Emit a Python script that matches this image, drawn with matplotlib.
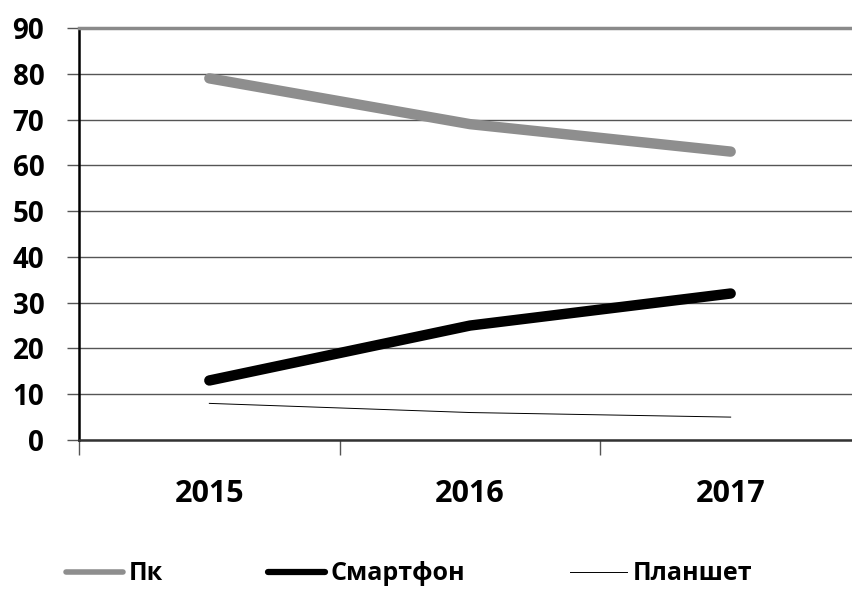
import matplotlib
matplotlib.use("Agg")
import matplotlib.pyplot as plt
from matplotlib.ticker import FixedLocator, NullFormatter

plt.rcParams['font.family'] = ['Open Sans', 'DejaVu Sans']
plt.rcParams['font.weight'] = 'bold'

# data
years = ['2015', '2016', '2017']
pc = [79, 69, 63]
smartphone = [13, 25, 32]
tablet = [8, 6, 5]
series_names = ['Пк', 'Смартфон', 'Планшет']

W, H = 853, 589
fig = plt.figure(figsize=(W / 100, H / 100), dpi=100)
# right edge of axes sits just past the picture, as in the reference
ax = fig.add_axes([79 / W, (H - 440) / H, (861 - 79) / W, (440 - 28) / H])

x = list(range(len(years)))
ax.plot(x, pc, color='#8e8e8e', lw=7.5, solid_capstyle='round', label=series_names[0], zorder=3)
ax.plot(x, smartphone, color='black', lw=7.5, solid_capstyle='round', label=series_names[1], zorder=3)
ax.plot(x, tablet, color='black', lw=0.7, label=series_names[2], zorder=3)

ax.set_xlim(-0.5, len(years) - 0.5)
ax.set_ylim(0, 90)

# y axis
ax.set_yticks(range(0, 91, 10))
ax.tick_params(axis='y', length=9, width=1, color='#555555', pad=16, labelsize=20)
ax.yaxis.grid(True, color='#555555', lw=1)
ax.set_axisbelow(True)

# x axis: ticks between categories, labels at centers
ax.xaxis.set_major_locator(FixedLocator([i - 0.5 for i in range(len(years) + 1)]))
ax.xaxis.set_major_formatter(NullFormatter())
ax.xaxis.set_minor_locator(FixedLocator(x))
ax.set_xticklabels(years, minor=True)
ax.tick_params(axis='x', which='major', length=11, width=1, color='#555555')
ax.tick_params(axis='x', which='minor', length=0, pad=28, labelsize=22)

ax.spines['left'].set_color('black')
ax.spines['left'].set_linewidth(1.8)
ax.spines['bottom'].set_color('#333333')
ax.spines['bottom'].set_linewidth(1.8)
ax.spines['top'].set_color('#8a8a8a')
ax.spines['top'].set_linewidth(2.5)
ax.spines['right'].set_visible(False)

leg = fig.legend(loc='center', bbox_to_anchor=(409 / W, 1 - 574 / H), ncol=3, frameon=False,
                 fontsize=18, handlelength=2.3, handletextpad=0.2, columnspacing=4.2,
                 borderaxespad=0)
leg.get_lines()[0].set_linewidth(4)
leg.get_lines()[1].set_linewidth(4.5)

fig.savefig('out.png', dpi=100)
